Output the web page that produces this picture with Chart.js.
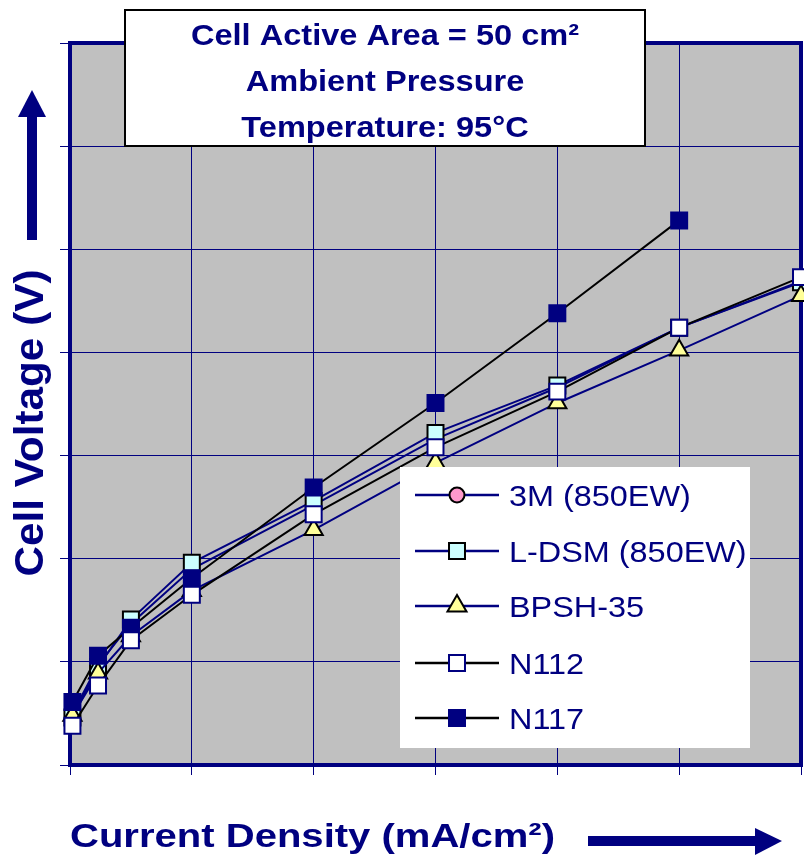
<!DOCTYPE html>
<html>
<head>
<meta charset="utf-8">
<script src="https://cdn.jsdelivr.net/npm/chart.js@4.4.0/dist/chart.umd.min.js"></script>
<style>
  html, body { margin: 0; padding: 0; background: #fff; }
  #wrap { width: 804px; height: 858px; }
</style>
</head>
<body>
<div id="wrap"><canvas id="chart" width="804" height="858"></canvas></div>
<script>
// current density (mA/cm2) at each measured point
const currentDensity = [4, 46, 100, 200, 400, 600, 800, 1000, 1200]
// cell voltage readings per membrane
const v3M   = [0.050, 0.097, 0.137, 0.190, 0.252, 0.316, 0.366, 0.424, 0.469]
const vLDSM = [0.046, 0.095, 0.141, 0.196, 0.256, 0.322, 0.368, 0.424, 0.468]
const vBPSH = [0.048, 0.089, 0.125, 0.169, 0.228, 0.293, 0.351, 0.402, 0.455]
const vN112 = [0.038, 0.077, 0.121, 0.165, 0.243, 0.308, 0.362, 0.424, 0.473]
const vN117 = [0.061, 0.106, 0.133, 0.181, 0.269, 0.351, 0.438, 0.528]

const seriesNames = ['3M (850EW)', 'L-DSM (850EW)', 'BPSH-35', 'N112', 'N117']
const titleLines = ['Cell Active Area = 50 cm²', 'Ambient Pressure', 'Temperature: 95°C']
const xTitle = 'Current Density (mA/cm²)'
const yTitle = 'Cell Voltage (V)'

const NAVY = '#000080'

function pts(ys) {
  return ys.map((y, i) => ({ x: currentDensity[i], y }))
}

const styles = [
  { line: NAVY, fill: '#FF99CC', edge: '#000000', shape: 'circle', r: 7 },
  { line: NAVY, fill: '#CCFFFF', edge: '#000000', shape: 'rect', r: 11.3 },
  { line: NAVY, fill: '#FFFF99', edge: '#000000', shape: 'triangle', r: 10.5 },
  { line: '#000000', fill: '#FFFFFF', edge: NAVY, shape: 'rect', r: 11.3 },
  { line: '#000000', fill: NAVY, edge: NAVY, shape: 'rect', r: 11.3 }
]
const values = [v3M, vLDSM, vBPSH, vN112, vN117]
const drawOrder = [4, 3, 2, 0, 1]

const datasets = values.map((v, i) => ({
  label: seriesNames[i],
  data: pts(v),
  borderColor: styles[i].line,
  borderWidth: 2,
  pointStyle: styles[i].shape,
  pointRadius: styles[i].r,
  pointBackgroundColor: styles[i].fill,
  pointBorderColor: styles[i].edge,
  pointBorderWidth: 2,
  tension: 0,
  clip: false,
  order: drawOrder[i]
}))

function fitText(ctx, text, x, y, w, align) {
  const m = ctx.measureText(text).width
  ctx.save()
  ctx.translate(x, y)
  ctx.scale(w / m, 1)
  ctx.textAlign = align
  ctx.fillText(text, 0, 0)
  ctx.restore()
}

function stretchText(ctx, text, x, y, sx, align) {
  ctx.save()
  ctx.translate(x, y)
  ctx.scale(sx, 1)
  ctx.textAlign = align
  ctx.fillText(text, 0, 0)
  ctx.restore()
}

function marker(ctx, st, x, y) {
  ctx.save()
  ctx.fillStyle = st.fill
  ctx.strokeStyle = st.edge
  ctx.lineWidth = 2
  ctx.beginPath()
  if (st.shape === 'circle') {
    ctx.arc(x, y, st.r, 0, Math.PI * 2)
  } else if (st.shape === 'rect') {
    const s = st.r * Math.SQRT1_2
    ctx.rect(x - s, y - s, 2 * s, 2 * s)
  } else {
    const r = st.r
    ctx.moveTo(x, y - r)
    ctx.lineTo(x + r * Math.sin(2 * Math.PI / 3), y + r / 2)
    ctx.lineTo(x - r * Math.sin(2 * Math.PI / 3), y + r / 2)
    ctx.closePath()
  }
  ctx.fill()
  ctx.stroke()
  ctx.restore()
}

const decor = {
  id: 'decor',
  beforeDraw(chart) {
    const { ctx, chartArea: a } = chart
    ctx.save()
    ctx.fillStyle = '#C0C0C0'
    ctx.fillRect(a.left, a.top, a.right - a.left, a.bottom - a.top)
    ctx.restore()
  },
  beforeDatasetsDraw(chart) {
    const { ctx, chartArea: a } = chart
    ctx.save()
    ctx.strokeStyle = NAVY
    ctx.lineWidth = 4
    ctx.strokeRect(a.left, a.top, a.right - a.left, a.bottom - a.top)
    ctx.restore()
  },
  afterDatasetsDraw(chart) {
    const ctx = chart.ctx
    // legend box inside the plot
    ctx.save()
    ctx.fillStyle = '#FFFFFF'
    ctx.fillRect(400, 467, 350, 281)
    const rows = [495, 551, 606, 663, 718]
    ctx.font = '30px "Liberation Sans", Arial, sans-serif'
    seriesNames.forEach((name, i) => {
      const y = rows[i]
      ctx.strokeStyle = styles[i].line
      ctx.lineWidth = 2.5
      ctx.beginPath()
      ctx.moveTo(415, y)
      ctx.lineTo(499, y)
      ctx.stroke()
      const st = Object.assign({}, styles[i])
      if (st.shape === 'circle') st.r = 7.5
      if (st.shape === 'triangle') st.r = 11
      marker(ctx, st, 457, y)
      ctx.fillStyle = NAVY
      stretchText(ctx, name, 509, y + 11, 1.08, 'left')
    })
    ctx.restore()
  },
  afterDraw(chart) {
    const ctx = chart.ctx
    ctx.save()
    // condition box
    ctx.fillStyle = '#FFFFFF'
    ctx.fillRect(125, 10, 520, 136)
    ctx.strokeStyle = '#000000'
    ctx.lineWidth = 2
    ctx.strokeRect(125, 10, 520, 136)
    ctx.fillStyle = NAVY
    ctx.font = 'bold 30px "Liberation Sans", Arial, sans-serif'
    const base = [45, 91, 137]
    titleLines.forEach((t, i) => stretchText(ctx, t, 385, base[i], 1.085, 'center'))

    // axis titles
    ctx.font = 'bold 34px "Liberation Sans", Arial, sans-serif'
    fitText(ctx, xTitle, 70, 847, 485, 'left')
    ctx.save()
    ctx.translate(43, 423)
    ctx.rotate(-Math.PI / 2)
    ctx.font = 'bold 40px "Liberation Sans", Arial, sans-serif'
    fitText(ctx, yTitle, 0, 0, 307, 'center')
    ctx.restore()

    // arrows
    ctx.fillStyle = NAVY
    ctx.fillRect(27, 116, 10, 124)
    ctx.beginPath()
    ctx.moveTo(32, 90)
    ctx.lineTo(46, 117)
    ctx.lineTo(18, 117)
    ctx.closePath()
    ctx.fill()
    ctx.fillRect(588, 836, 168, 10)
    ctx.beginPath()
    ctx.moveTo(782, 841)
    ctx.lineTo(755, 828)
    ctx.lineTo(755, 855)
    ctx.closePath()
    ctx.fill()
    ctx.restore()
  }
}

const ctx = document.getElementById('chart').getContext('2d')
const chart = new Chart(ctx, {
  type: 'line',
  data: { datasets },
  options: {
    responsive: false,
    animation: false,
    layout: { autoPadding: false, padding: { left: 60, right: 3, top: 43, bottom: 83 } },
    plugins: {
      legend: { display: false },
      tooltip: { enabled: false },
      title: { display: false }
    },
    scales: {
      x: {
        type: 'linear',
        min: 0,
        max: 1200,
        ticks: { display: false, stepSize: 200 },
        grid: { color: NAVY, lineWidth: 1, tickLength: 10 },
        border: { display: false }
      },
      y: {
        type: 'linear',
        min: 0,
        max: 0.7,
        ticks: { display: false, stepSize: 0.1 },
        grid: { color: NAVY, lineWidth: 1, tickLength: 10 },
        border: { display: false }
      }
    }
  },
  plugins: [decor]
})
</script>
</body>
</html>
